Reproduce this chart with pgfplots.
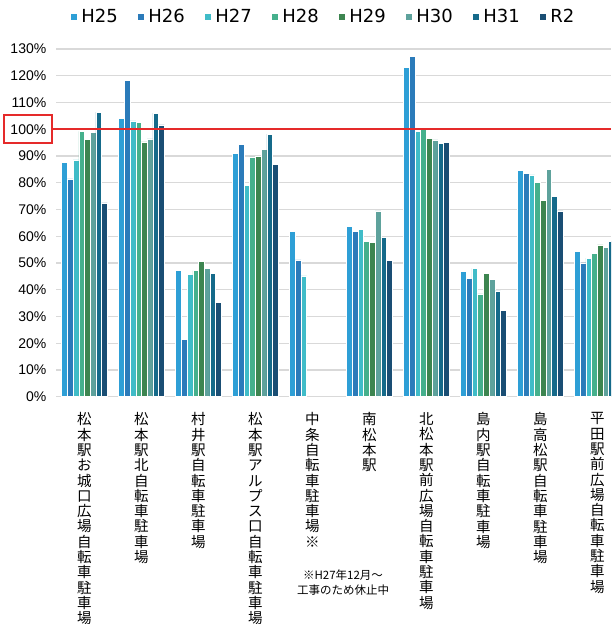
\documentclass[border=0pt]{standalone}
\usepackage{fontspec}
\setmainfont{Noto Sans CJK JP}
\newfontfamily\legfont{DejaVu Sans}
\newfontfamily\tickfont{Liberation Sans}
\usepackage{pgfplots}
\usepackage{pgfplotstable}
\pgfplotsset{compat=1.18}

\definecolor{cH25}{HTML}{2E9FD6}
\definecolor{cH26}{HTML}{2B7BBA}
\definecolor{cH27}{HTML}{40BCC8}
\definecolor{cH28}{HTML}{45B08C}
\definecolor{cH29}{HTML}{3D8550}
\definecolor{cH30}{HTML}{5EA29C}
\definecolor{cH31}{HTML}{156A8A}
\definecolor{cR2}{HTML}{1A4E74}
\definecolor{gridc}{HTML}{D9D9D9}
\definecolor{redc}{HTML}{E52A2A}

% vertical (tategaki) label: one character per line
\makeatletter
\def\tate@end{}
\def\tate#1{\vbox{\baselineskip=15.3pt\lineskiplimit=-20pt\tate@#1\tate@end}}
\def\tate@#1{\ifx\tate@end#1\else\hbox to 14pt{\hss#1\hss}\expandafter\tate@\fi}
\makeatother

\pgfplotstableread{
x H25 H26 H27 H28 H29 H30 H31 R2
0 87.6 81.4 88.5 99.2 96.2 98.7 106.4 72.5
1 104.2 118.4 103.1 102.7 95.3 96.4 106.0 101.6
2 47.1 21.3 45.6 47.1 50.6 47.9 46.0 35.3
3 91.1 94.2 78.9 89.7 89.8 92.6 98.2 86.9
4 61.7 51.2 45.2 nan nan nan nan nan
5 63.8 61.8 62.6 58.1 57.8 69.5 59.7 51.0
6 123.0 127.2 99.1 100.7 96.6 96.0 94.7 95.2
7 46.9 44.2 48.0 38.4 46.1 44.0 39.6 32.4
8 84.7 83.6 82.9 80.2 73.5 85.0 74.9 69.5
9 54.3 50.0 51.8 53.6 56.8 55.8 58.1 nan
}\ratedata

\begin{document}
\begin{tikzpicture}
\clip (0,0) rectangle (611pt,624pt);
\begin{axis}[
    at={(56pt,227.3pt)}, anchor=south west,
    scale only axis,
    width=555pt, height=347.7pt,
    xmin=-0.5, xmax=9.24,
    ymin=0, ymax=130,
    ytick={0,10,...,130},
    yticklabel={\pgfmathprintnumber{\tick}\%},
    /pgf/number format/assume math mode=true,
    yticklabel style={font=\tickfont\fontsize{14}{14}\selectfont, anchor=east, inner sep=0pt, xshift=-9.5pt},
    xtick={0,...,9},
    xticklabels={
        \tate{松本駅お城口広場自転車駐車場},
        \tate{松本駅北自転車駐車場},
        \tate{村井駅自転車駐車場},
        \tate{松本駅アルプス口自転車駐車場},
        \tate{中条自転車駐車場※},
        \tate{南松本駅},
        \tate{北松本駅前広場自転車駐車場},
        \tate{島内駅自転車駐車場},
        \tate{島高松駅自転車駐車場},
        \tate{平田駅前広場自転車駐車場}},
    xticklabel style={font=\fontsize{14.5}{14.5}\selectfont, anchor=north, inner sep=0pt, yshift=-11.5pt},
    axis line style={draw=none},
    tick style={draw=none},
    ymajorgrids,
    grid style={draw=gridc, line width=1.2pt},
    ybar=0pt, bar width=0.1,
    every axis plot/.append style={draw=white, line width=0.5pt},
    legend columns=8,
    legend style={draw=none, fill=none, at={(0.022,1.092)}, anchor=west,
        font=\legfont\fontsize{18}{18}\selectfont,
        cells={anchor=west},
        nodes={inner xsep=3pt, inner ysep=1pt, text width=54pt},
        /tikz/every odd column/.append style={column sep=1pt}},
    legend image code/.code={\fill[#1,draw=none] (0pt,-3pt) rectangle (6pt,3pt);},
]
\addplot[fill=cH25] table[x=x, y=H25] {\ratedata};
\addplot[fill=cH26] table[x=x, y=H26] {\ratedata};
\addplot[fill=cH27] table[x=x, y=H27] {\ratedata};
\addplot[fill=cH28] table[x=x, y=H28] {\ratedata};
\addplot[fill=cH29] table[x=x, y=H29] {\ratedata};
\addplot[fill=cH30] table[x=x, y=H30] {\ratedata};
\addplot[fill=cH31] table[x=x, y=H31] {\ratedata};
\addplot[fill=cR2] table[x=x, y=R2] {\ratedata};
\legend{H25,H26,H27,H28,H29,H30,H31,R2}
\end{axis}
% 100% reference line and box around its label
\draw[redc, line width=2pt] (52pt,494.76pt) -- (611pt,494.76pt);
\draw[redc, line width=2pt] (4pt,481pt) rectangle (52pt,509pt);
\node[align=center, font=\fontsize{11.5}{15}\selectfont, inner sep=0pt] at (343pt,41pt)
    {※H27年12月～\\工事のため休止中};
\end{tikzpicture}
\end{document}
